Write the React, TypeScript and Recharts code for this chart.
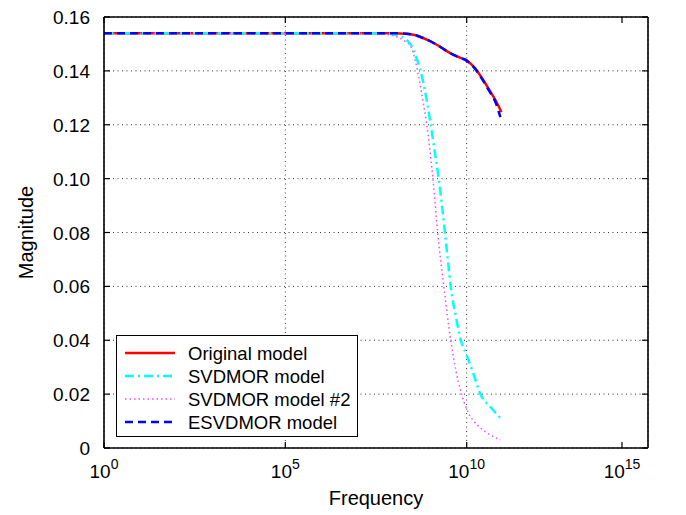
import { CartesianGrid, Line, LineChart, XAxis, YAxis } from 'recharts'

const FONT = '"Liberation Sans", Arial, Helvetica, sans-serif'

// log10(frequency) sample points and magnitudes
const originalExp = [0, 2, 4, 6, 7, 7.5, 8, 8.3, 8.6, 8.8, 9.0, 9.2, 9.4, 9.6, 9.8, 10.0, 10.2, 10.4, 10.6, 10.8, 10.96]
const originalVal = [0.154, 0.154, 0.154, 0.154, 0.154, 0.154, 0.154, 0.1538, 0.1532, 0.1522, 0.151, 0.1495, 0.1478, 0.1462, 0.145, 0.1438, 0.1415, 0.1378, 0.1335, 0.129, 0.1247]

const esvdExp = [0, 2, 4, 6, 7, 7.5, 8, 8.3, 8.6, 8.8, 9.0, 9.2, 9.4, 9.6, 9.8, 10.0, 10.2, 10.4, 10.6, 10.8, 10.93]
const esvdVal = [0.154, 0.154, 0.154, 0.154, 0.154, 0.154, 0.154, 0.1538, 0.1532, 0.1522, 0.151, 0.1495, 0.1478, 0.1462, 0.145, 0.1438, 0.1413, 0.1375, 0.133, 0.1282, 0.1228]

const svdExp = [0, 4, 7, 7.8, 8.1, 8.3, 8.5, 8.65, 8.77, 8.9, 9.01, 9.12, 9.23, 9.32, 9.4, 9.48, 9.56, 9.7, 9.84, 10.0, 10.2, 10.38, 10.66, 10.93]
const svdVal = [0.154, 0.154, 0.154, 0.1538, 0.1532, 0.152, 0.1488, 0.1435, 0.1377, 0.129, 0.12, 0.11, 0.1, 0.09, 0.08, 0.07, 0.06, 0.049, 0.04, 0.0345, 0.027, 0.02, 0.0152, 0.0111]

const svd2Exp = [0, 4, 7, 7.8, 8.1, 8.3, 8.46, 8.58, 8.68, 8.78, 8.9, 9.07, 9.2, 9.37, 9.56, 9.7, 9.86, 10.05, 10.3, 10.52, 10.93]
const svd2Val = [0.154, 0.154, 0.154, 0.1535, 0.1525, 0.151, 0.149, 0.144, 0.1377, 0.13, 0.12, 0.1, 0.08, 0.06, 0.04, 0.029, 0.02, 0.013, 0.0085, 0.006, 0.003]

const xTickExp = [0, 5, 10, 15]
const yTicks = [0, 0.02, 0.04, 0.06, 0.08, 0.1, 0.12, 0.14, 0.16]

const toRows = (exp: number[], val: number[]) => exp.map((e, i) => ({ f: Math.pow(10, e), v: val[i] }))

const series = [
  { key: 'orig', name: 'Original model', rows: toRows(originalExp, originalVal), color: '#ff0000', width: 2.5, dash: undefined },
  { key: 'svd2', name: 'SVDMOR model #2', rows: toRows(svd2Exp, svd2Val), color: '#ff44ff', width: 1.5, dash: '1.5 3' },
  { key: 'svd', name: 'SVDMOR model', rows: toRows(svdExp, svdVal), color: '#00ffff', width: 2.5, dash: '9 4 2 4' },
  { key: 'esvd', name: 'ESVDMOR model', rows: toRows(esvdExp, esvdVal), color: '#0000ff', width: 2.5, dash: '8 5' },
]
const legendOrder = ['orig', 'svd', 'svd2', 'esvd']

const BottomTick = ({ x, y, payload }: any) => {
  const n = Math.round(Math.log10(payload.value))
  return (
    <g>
      <line x1={x} x2={x} y1={y} y2={y - 6} stroke="#000" strokeWidth={1.2} />
      <text x={x} y={y + 30} textAnchor="middle" fontFamily={FONT} fontSize={19} fill="#000">
        10<tspan dy={-9} fontSize={14}>{n}</tspan>
      </text>
    </g>
  )
}

const TopTick = ({ x, y }: any) => (
  <line x1={x} x2={x} y1={y} y2={y + 6} stroke="#000" strokeWidth={1.2} />
)

const LeftTick = ({ x, y, payload }: any) => {
  const label = payload.value === 0 ? '0' : payload.value.toFixed(2)
  return (
    <g>
      <line x1={x + 14} x2={x + 20} y1={y} y2={y} stroke="#000" strokeWidth={1.2} />
      <text x={x} y={y + 7} textAnchor="end" fontFamily={FONT} fontSize={19} fill="#000">
        {label}
      </text>
    </g>
  )
}

const RightTick = ({ x, y }: any) => (
  <line x1={x} x2={x - 6} y1={y} y2={y} stroke="#000" strokeWidth={1.2} />
)

const LegendBox = () => (
  <div
    style={{
      position: 'absolute',
      left: 116,
      top: 335,
      width: 240,
      height: 100,
      border: '1px solid #000',
      background: '#fff',
      fontFamily: FONT,
    }}
  >
    <svg width={240} height={100} style={{ display: 'block' }}>
      {legendOrder.map((k, i) => {
        const s = series.find((d) => d.key === k)!
        const cy = 17 + i * 23
        return (
          <g key={k}>
            <line x1={8} x2={58} y1={cy} y2={cy} stroke={s.color} strokeWidth={s.width} strokeDasharray={s.dash} />
            <text x={71} y={cy + 6.5} fontSize={18.5} fill="#000">
              {s.name}
            </text>
          </g>
        )
      })}
    </svg>
  </div>
)

export default function App() {
  return (
    <div style={{ position: 'absolute', left: 0, top: 0, width: 686, height: 515, background: '#fff' }}>
      <LineChart width={686} height={515} margin={{ top: 0, right: 0, bottom: 0, left: 0 }}>
        <CartesianGrid xAxisId="b" yAxisId="l" stroke="#333" strokeDasharray="1 3.5" strokeWidth={1} />
        <XAxis
          xAxisId="b"
          dataKey="f"
          type="number"
          scale="log"
          domain={[1, 1e15]}
          ticks={xTickExp.map((e) => Math.pow(10, e))}
          height={67}
          tickSize={0}
          tickMargin={0}
          tickLine={false}
          tick={<BottomTick />}
          axisLine={{ stroke: '#000', strokeWidth: 1.6 }}
          allowDataOverflow
          label={(p: any) => (
            <text x={p.viewBox.x + p.viewBox.width / 2} y={505} textAnchor="middle" fontFamily={FONT} fontSize={20} fill="#000">
              Frequency
            </text>
          )}
        />
        <XAxis
          xAxisId="t"
          orientation="top"
          dataKey="f"
          type="number"
          scale="log"
          domain={[1, 1e15]}
          ticks={xTickExp.map((e) => Math.pow(10, e))}
          height={17}
          tickSize={0}
          tickMargin={0}
          tickLine={false}
          tick={<TopTick />}
          axisLine={{ stroke: '#000', strokeWidth: 1.6 }}
          allowDataOverflow
        />
        <YAxis
          yAxisId="l"
          type="number"
          domain={[0, 0.16]}
          ticks={yTicks}
          width={104}
          tickSize={0}
          tickMargin={14}
          tickLine={false}
          tick={<LeftTick />}
          axisLine={{ stroke: '#000', strokeWidth: 1.6 }}
          allowDataOverflow
          label={(p: any) => (
            <text
              x={33}
              y={p.viewBox.y + p.viewBox.height / 2}
              transform={`rotate(-90 33 ${p.viewBox.y + p.viewBox.height / 2})`}
              textAnchor="middle"
              fontFamily={FONT}
              fontSize={20}
              fill="#000"
            >
              Magnitude
            </text>
          )}
        />
        <YAxis
          yAxisId="r"
          orientation="right"
          type="number"
          domain={[0, 0.16]}
          ticks={yTicks}
          width={38}
          tickSize={0}
          tickMargin={0}
          tickLine={false}
          tick={<RightTick />}
          axisLine={{ stroke: '#000', strokeWidth: 1.6 }}
          allowDataOverflow
        />
        {series.map((s) => (
          <Line
            key={s.key}
            xAxisId="b"
            yAxisId="l"
            data={s.rows}
            dataKey="v"
            name={s.name}
            type="monotone"
            stroke={s.color}
            strokeWidth={s.width}
            strokeDasharray={s.dash}
            dot={false}
            activeDot={false}
            isAnimationActive={false}
          />
        ))}
      </LineChart>
      <LegendBox />
    </div>
  )
}
